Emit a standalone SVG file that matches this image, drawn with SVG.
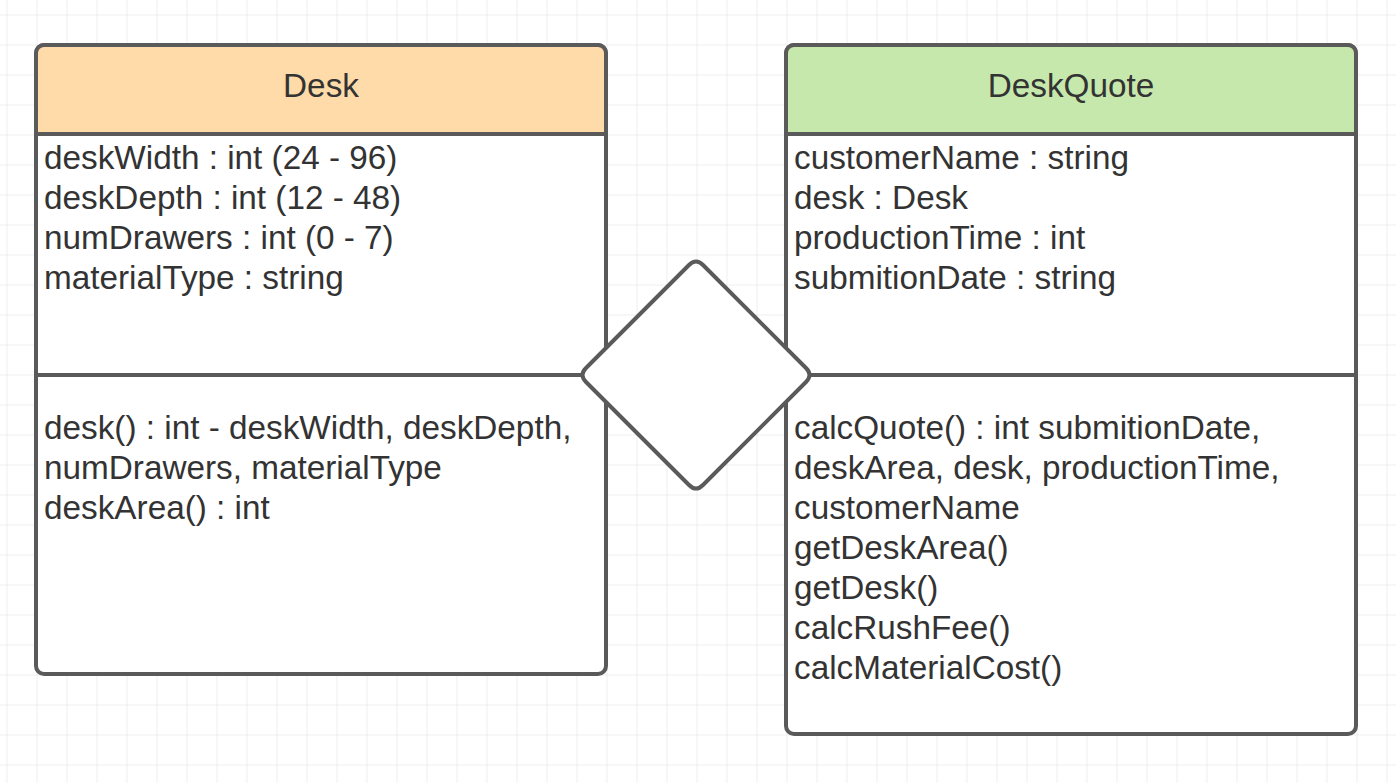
<svg xmlns="http://www.w3.org/2000/svg" width="1396" height="783" viewBox="0 0 1396 783">
<defs>
<pattern id="grid" x="6.5" y="14.5" width="30" height="30" patternUnits="userSpaceOnUse">
<path d="M0 0H30M0 0V30" fill="none" stroke="#e0e0e0" stroke-width="1"/>
</pattern>
</defs>
<style>
.box{fill:#ffffff;stroke:#5a5a5a;stroke-width:4}
.line{stroke:#5a5a5a;stroke-width:4;fill:none}
.t{font-family:"Liberation Sans",Arial,sans-serif;font-size:33.3px;fill:#333333}
.h{font-family:"Liberation Sans",Arial,sans-serif;font-size:33.3px;fill:#333333;text-anchor:middle}
</style>
<rect width="1396" height="783" fill="#ffffff"/>
<rect width="1396" height="783" fill="url(#grid)"/>
<g id="desk">
<rect class="box" x="36" y="45" width="570" height="629" rx="8"/>
<path d="M36 134V53a8 8 0 0 1 8-8H598a8 8 0 0 1 8 8V134Z" fill="#ffdba9" stroke="#5a5a5a" stroke-width="4"/>
<line class="line" x1="36" y1="375" x2="606" y2="375"/>
<text class="h" x="321" y="97">Desk</text>
<text class="t" x="44" y="169">deskWidth : int (24 - 96)</text>
<text class="t" x="44" y="209">deskDepth : int (12 - 48)</text>
<text class="t" x="44" y="249">numDrawers : int (0 - 7)</text>
<text class="t" x="44" y="289">materialType : string</text>
<text class="t" x="44" y="439">desk() : int - deskWidth, deskDepth,</text>
<text class="t" x="44" y="479">numDrawers, materialType</text>
<text class="t" x="44" y="519">deskArea() : int</text>
</g>
<g id="deskquote">
<rect class="box" x="786" y="45" width="570" height="689" rx="8"/>
<path d="M786 134V53a8 8 0 0 1 8-8H1348a8 8 0 0 1 8 8V134Z" fill="#c7e8ac" stroke="#5a5a5a" stroke-width="4"/>
<line class="line" x1="786" y1="375" x2="1356" y2="375"/>
<text class="h" x="1071" y="97">DeskQuote</text>
<text class="t" x="794" y="169">customerName : string</text>
<text class="t" x="794" y="209">desk : Desk</text>
<text class="t" x="794" y="249">productionTime : int</text>
<text class="t" x="794" y="289">submitionDate : string</text>
<text class="t" x="794" y="439">calcQuote() : int submitionDate,</text>
<text class="t" x="794" y="479">deskArea, desk, productionTime,</text>
<text class="t" x="794" y="519">customerName</text>
<text class="t" x="794" y="559">getDeskArea()</text>
<text class="t" x="794" y="599">getDesk()</text>
<text class="t" x="794" y="639">calcRushFee()</text>
<text class="t" x="794" y="679">calcMaterialCost()</text>
</g>
<g id="connectors">
<path d="M689 265Q696 258 703 265L806 368Q813 375 806 382L703 485Q696 492 689 485L586 382Q579 375 586 368Z" fill="#ffffff" stroke="#5a5a5a" stroke-width="4" stroke-linejoin="round"/>
</g>
</svg>
